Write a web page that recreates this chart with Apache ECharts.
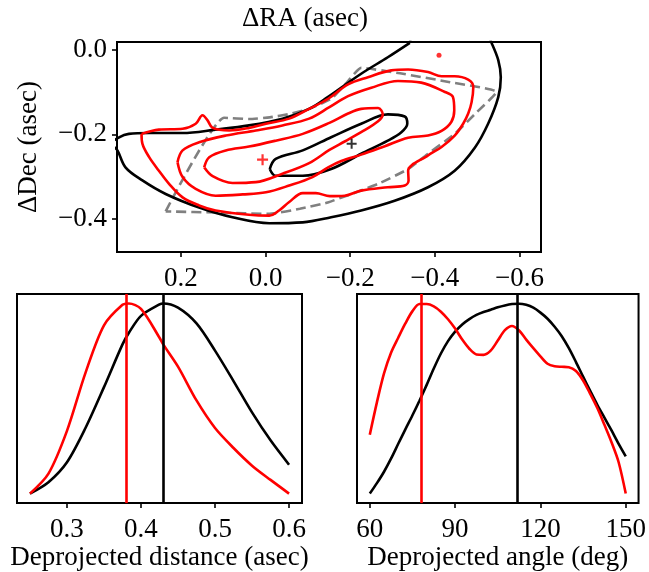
<!DOCTYPE html>
<html><head><meta charset="utf-8">
<script src="https://cdn.jsdelivr.net/npm/echarts@6/dist/echarts.min.js"></script>
<style>html,body{margin:0;padding:0;background:#fff}#c{width:649px;height:572px}</style>
</head><body><div id="c"></div>
<script>
// ---------- data ----------
const topXTicks = [0.2, 0.0, -0.2, -0.4, -0.6];
const topYTicks = [0.0, -0.2, -0.4];
const distTicks = [0.3, 0.4, 0.5, 0.6];
const angleTicks = [60, 90, 120, 150];

// contour of the model posterior (black)
const blackOuter = [[-0.341,0.016],[-0.289,-0.018],[-0.226,-0.057],[-0.147,-0.112],[-0.103,-0.140],[-0.040,-0.163],[0.039,-0.179],[0.118,-0.189],[0.196,-0.197],[0.275,-0.197],[0.323,-0.199],[0.346,-0.207],[0.364,-0.222],[0.350,-0.238],[0.331,-0.278],[0.291,-0.309],[0.236,-0.341],[0.157,-0.373],[0.078,-0.396],[-0.009,-0.410],[-0.088,-0.408],[-0.155,-0.396],[-0.226,-0.380],[-0.305,-0.357],[-0.384,-0.325],[-0.447,-0.286],[-0.495,-0.231],[-0.526,-0.175],[-0.550,-0.112],[-0.556,-0.065],[-0.550,-0.025],[-0.534,0.016],[-0.519,0.046],[-0.356,0.046]];
const blackInner = [[-0.010,-0.282],[-0.024,-0.258],[-0.088,-0.238],[-0.155,-0.207],[-0.226,-0.175],[-0.289,-0.153],[-0.329,-0.158],[-0.335,-0.175],[-0.321,-0.195],[-0.289,-0.215],[-0.226,-0.246],[-0.155,-0.282],[-0.088,-0.298],[-0.024,-0.298]];
// red contours
const redOuter = [[0.293,-0.199],[0.252,-0.189],[0.196,-0.187],[0.165,-0.175],[0.149,-0.155],[0.137,-0.167],[0.125,-0.185],[0.086,-0.191],[0.039,-0.185],[-0.001,-0.175],[-0.056,-0.163],[-0.103,-0.140],[-0.148,-0.116],[-0.195,-0.082],[-0.242,-0.065],[-0.297,-0.049],[-0.337,-0.047],[-0.384,-0.053],[-0.416,-0.063],[-0.447,-0.063],[-0.479,-0.071],[-0.491,-0.088],[-0.487,-0.124],[-0.479,-0.151],[-0.467,-0.175],[-0.447,-0.203],[-0.416,-0.230],[-0.384,-0.250],[-0.337,-0.286],[-0.338,-0.309],[-0.329,-0.321],[-0.289,-0.325],[-0.226,-0.333],[-0.187,-0.345],[-0.152,-0.346],[-0.119,-0.339],[-0.088,-0.339],[-0.056,-0.360],[-0.032,-0.380],[-0.009,-0.392],[0.039,-0.390],[0.118,-0.380],[0.157,-0.368],[0.196,-0.349],[0.228,-0.317],[0.252,-0.286],[0.275,-0.254],[0.291,-0.222]];
const redMiddle = [[0.208,-0.266],[0.196,-0.238],[0.157,-0.219],[0.094,-0.203],[0.023,-0.191],[-0.040,-0.179],[-0.103,-0.163],[-0.151,-0.136],[-0.195,-0.110],[-0.250,-0.090],[-0.313,-0.074],[-0.368,-0.078],[-0.424,-0.100],[-0.443,-0.112],[-0.446,-0.144],[-0.439,-0.171],[-0.416,-0.192],[-0.384,-0.203],[-0.337,-0.208],[-0.282,-0.228],[-0.226,-0.248],[-0.179,-0.263],[-0.148,-0.278],[-0.111,-0.301],[-0.056,-0.321],[-0.001,-0.337],[0.054,-0.342],[0.118,-0.345],[0.165,-0.329],[0.196,-0.301]];
const redInner = [[0.145,-0.278],[0.133,-0.254],[0.094,-0.238],[0.039,-0.229],[-0.024,-0.215],[-0.088,-0.199],[-0.151,-0.173],[-0.195,-0.151],[-0.226,-0.140],[-0.266,-0.138],[-0.277,-0.153],[-0.266,-0.169],[-0.226,-0.195],[-0.187,-0.217],[-0.151,-0.237],[-0.103,-0.268],[-0.040,-0.293],[0.023,-0.313],[0.078,-0.315],[0.125,-0.299]];
// field outline (gray dashed)
const fieldOutline = [[0.236,-0.382],[0.098,-0.161],[0.039,-0.164],[-0.010,-0.160],[-0.057,-0.152],[-0.103,-0.140],[-0.155,-0.116],[-0.190,-0.080],[-0.226,-0.043],[-0.318,-0.056],[-0.436,-0.077],[-0.546,-0.100],[-0.495,-0.152],[-0.447,-0.199],[-0.384,-0.246],[-0.337,-0.282],[-0.266,-0.317],[-0.147,-0.361],[-0.081,-0.376],[-0.009,-0.388],[0.108,-0.385]];
const blackBest = [-0.2035, -0.2225];
const redBest = [0.007, -0.260];
const redDot = [-0.410, -0.0135];

// deprojected distance distributions (normalized)
const distX = [0.25,0.275,0.30,0.325,0.35,0.375,0.3835,0.40,0.425,0.43,0.45,0.475,0.50,0.525,0.55,0.575,0.60];
const distBlack = [0.0,0.06,0.165,0.345,0.56,0.785,0.845,0.935,0.995,1.0,0.978,0.895,0.752,0.592,0.427,0.28,0.152];
const distRed = [0.0,0.105,0.33,0.635,0.885,0.993,1.0,0.972,0.82,0.785,0.668,0.49,0.345,0.24,0.147,0.072,0.0];
const distBlackPeak = 0.43;
const distRedPeak = 0.3835;

// deprojected angle distributions (normalized)
const angleX = [60,62.5,65,67.5,70,72.5,75,77.5,80,82.5,85,87.5,90,92.5,95,97.5,100,102.5,105,107.5,110,112.5,115,117.5,120,122.5,125,127.5,130,132.5,135,137.5,140,142.5,145,147.5,150];
const angleBlack = [0.0,0.055,0.115,0.185,0.262,0.338,0.412,0.49,0.572,0.658,0.737,0.802,0.852,0.89,0.918,0.94,0.955,0.967,0.98,0.99,0.997,0.999,0.993,0.978,0.952,0.92,0.878,0.828,0.765,0.692,0.615,0.54,0.467,0.4,0.332,0.262,0.196];
const angleRed = [0.31,0.48,0.632,0.742,0.82,0.895,0.96,0.997,0.997,0.985,0.957,0.917,0.868,0.81,0.762,0.732,0.73,0.752,0.805,0.86,0.882,0.858,0.81,0.765,0.722,0.683,0.67,0.667,0.665,0.645,0.595,0.525,0.45,0.362,0.27,0.165,0.0];
const angleBlackPeak = 111.8;
const angleRedPeak = 78.1;

// ---------- chart ----------
const FONT = 'Liberation Serif';
const FS = 27;
const LW = 2.6;
const close = a => a.concat([a[0]]);
const pairs = (xs, ys) => xs.map((x, i) => [x, ys[i]]);
const fmt = d => v => (v < 0 ? '\u2212' : '') + Math.abs(v).toFixed(d);
const lab = (vals, f, m) => ({customValues: vals, formatter: f, fontFamily: FONT, fontSize: FS, color: '#000', margin: m});
const tick = vals => ({show: true, inside: false, length: 5, customValues: vals, lineStyle: {color: '#000', width: 1.6}});
const noLine = {show: false, onZero: false};
const gridBase = {show: true, borderColor: '#000', borderWidth: 2, containLabel: false};
const plus = 'path://M4,0H6V4H10V6H6V10H4V6H0V4H4Z';

function curve(xi, yi, data, color, z, sm) {
  return {type: 'line', xAxisIndex: xi, yAxisIndex: yi, data: data, showSymbol: false, symbol: 'none',
    smooth: sm || 0.35, lineStyle: {color: color, width: LW}, z: z || 2, silent: true, clip: true};
}
function vline(xi, yi, x, color) {
  return {type: 'line', xAxisIndex: xi, yAxisIndex: yi, data: [], silent: true,
    markLine: {silent: true, symbol: ['none', 'none'], label: {show: false}, animation: false,
      lineStyle: {color: color, width: LW, type: 'solid'}, data: [{xAxis: x}]}, z: 5};
}

const chart = echarts.init(document.getElementById('c'), null, {renderer: 'canvas'});
chart.setOption({
  animation: false,
  backgroundColor: '#fff',
  graphic: [{type: 'text', x: 305, y: 19, style: {text: '\u0394RA (asec)', fontFamily: FONT, fontSize: FS, fill: '#000', textAlign: 'center', textVerticalAlign: 'middle'}}],
  grid: [
    Object.assign({left: 117, top: 42, width: 424, height: 210}, gridBase),
    Object.assign({left: 17, top: 294, width: 285, height: 212}, gridBase),
    Object.assign({left: 357, top: 294, width: 284, height: 212}, gridBase)
  ],
  xAxis: [
    {gridIndex: 0, type: 'value', min: -0.651, max: 0.351, inverse: true, axisLine: noLine, splitLine: {show: false},
      axisTick: tick(topXTicks), axisLabel: lab(topXTicks, fmt(1), 13)},
    {gridIndex: 1, type: 'value', min: 0.2325, max: 0.6175, axisLine: noLine, splitLine: {show: false},
      axisTick: tick(distTicks), axisLabel: lab(distTicks, fmt(1), 13),
      name: 'Deprojected distance (asec)', nameLocation: 'middle', nameGap: 35,
      nameTextStyle: {fontFamily: FONT, fontSize: FS, color: '#000'}},
    {gridIndex: 2, type: 'value', min: 55.5, max: 154.5, axisLine: noLine, splitLine: {show: false},
      axisTick: tick(angleTicks), axisLabel: lab(angleTicks, fmt(0), 13),
      name: 'Deprojected angle (deg)', nameLocation: 'middle', nameGap: 35,
      nameTextStyle: {fontFamily: FONT, fontSize: FS, color: '#000'}}
  ],
  yAxis: [
    {gridIndex: 0, type: 'value', min: -0.478, max: 0.018, axisLine: noLine, splitLine: {show: false},
      axisTick: tick(topYTicks), axisLabel: lab(topYTicks, fmt(1), 10),
      name: '\u0394Dec (asec)', nameLocation: 'middle', nameGap: 75, nameRotate: 90,
      nameTextStyle: {fontFamily: FONT, fontSize: FS, color: '#000'}},
    {gridIndex: 1, type: 'value', min: -0.05, max: 1.05, show: false, axisLine: noLine},
    {gridIndex: 2, type: 'value', min: -0.05, max: 1.05, show: false, axisLine: noLine}
  ],
  series: [
    Object.assign(curve(0, 0, close(fieldOutline), '#808080', 1), {lineStyle: {color: '#808080', width: LW, type: [10, 5]}, smooth: 0.15}),
    curve(0, 0, close(blackOuter), '#000'),
    curve(0, 0, close(blackInner), '#000'),
    curve(0, 0, close(redOuter), '#ff0000', 3),
    curve(0, 0, close(redMiddle), '#ff0000', 3),
    curve(0, 0, close(redInner), '#ff0000', 3),
    {type: 'scatter', xAxisIndex: 0, yAxisIndex: 0, data: [blackBest], symbol: plus, symbolSize: 10, itemStyle: {color: '#000'}, z: 6, silent: true},
    {type: 'scatter', xAxisIndex: 0, yAxisIndex: 0, data: [redBest], symbol: plus, symbolSize: 11, itemStyle: {color: '#ff0000'}, z: 6, silent: true},
    {type: 'scatter', xAxisIndex: 0, yAxisIndex: 0, data: [redDot], symbol: 'circle', symbolSize: 5, itemStyle: {color: '#ff0000'}, z: 6, silent: true},

    curve(1, 1, pairs(distX, distBlack), '#000', 2, 0.3),
    curve(1, 1, pairs(distX, distRed), '#ff0000', 3, 0.3),
    vline(1, 1, distBlackPeak, '#000'),
    vline(1, 1, distRedPeak, '#ff0000'),

    curve(2, 2, pairs(angleX, angleBlack), '#000', 2, 0.3),
    curve(2, 2, pairs(angleX, angleRed), '#ff0000', 3, 0.3),
    vline(2, 2, angleBlackPeak, '#000'),
    vline(2, 2, angleRedPeak, '#ff0000')
  ]
});
</script></body></html>
